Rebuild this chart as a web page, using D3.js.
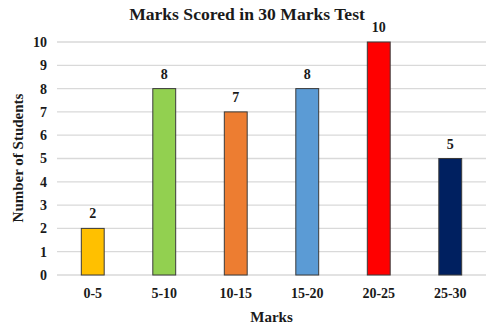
<!DOCTYPE html>
<html>
<head>
<meta charset="utf-8">
<script src="https://cdn.jsdelivr.net/npm/d3@7"></script>
<style>
  body { margin: 0; background: #fff; }
  svg text { font-family: "Liberation Serif", "Times New Roman", serif !important; font-weight: bold; fill: #1a1a1a; }
</style>
</head>
<body>
<div id="chart"></div>
<script>
// chart data
var categories = ["0-5", "5-10", "10-15", "15-20", "20-25", "25-30"];
var students = [2, 8, 7, 8, 10, 5];
var barColors = ["#FFC000", "#92D050", "#ED7D31", "#5B9BD5", "#FF0000", "#002060"];
var yTicks = [0, 1, 2, 3, 4, 5, 6, 7, 8, 9, 10];

var width = 495, height = 329;
var margin = {top: 42, right: 9, bottom: 54, left: 57};
var serif = '"Liberation Serif", "Times New Roman", serif';

var svg = d3.select("#chart")
    .append("svg")
    .attr("width", width)
    .attr("height", height);

var x = d3.scaleBand()
    .domain(categories)
    .range([margin.left, width - margin.right])
    .paddingInner(0.68)
    .paddingOuter(0.34);

var y = d3.scaleLinear()
    .domain([0, 10])
    .range([height - margin.bottom, margin.top]);

// gridlines
svg.append("g")
    .selectAll("line")
    .data(yTicks)
    .enter().append("line")
    .attr("x1", margin.left)
    .attr("x2", width - margin.right)
    .attr("y1", function (d) { return y(d); })
    .attr("y2", function (d) { return y(d); })
    .style("stroke", "#d9d9d9")
    .style("stroke-width", 1.3);

// y tick labels
var yAxis = svg.append("g")
    .attr("transform", "translate(" + margin.left + ",0)")
    .attr("font-family", serif)
    .call(d3.axisLeft(y).tickValues(yTicks).tickSize(0).tickPadding(10));
yAxis.select(".domain").remove();
yAxis.selectAll("text").style("font-size", "14px").style("font-family", serif);

// bars
svg.append("g")
    .selectAll("rect")
    .data(students)
    .enter().append("rect")
    .attr("x", function (d, i) { return x(categories[i]); })
    .attr("y", function (d) { return y(d); })
    .attr("width", x.bandwidth())
    .attr("height", function (d) { return y(0) - y(d); })
    .style("fill", function (d, i) { return barColors[i]; })
    .style("stroke", "#3a3a3a")
    .style("stroke-width", 1);

// value labels
svg.append("g")
    .selectAll("text")
    .data(students)
    .enter().append("text")
    .attr("x", function (d, i) { return x(categories[i]) + x.bandwidth() / 2; })
    .attr("y", function (d) { return y(d) - 10; })
    .attr("text-anchor", "middle")
    .style("font-size", "14px")
    .style("font-family", serif)
    .text(function (d) { return d; });

// x tick labels
var xAxis = svg.append("g")
    .attr("transform", "translate(0," + y(0) + ")")
    .attr("font-family", serif)
    .call(d3.axisBottom(x).tickSize(0).tickPadding(13));
xAxis.select(".domain").remove();
xAxis.selectAll("text").style("font-size", "14px").style("font-family", serif);

// titles
svg.append("text")
    .attr("x", 247)
    .attr("y", 20)
    .attr("text-anchor", "middle")
    .style("font-size", "17.6px")
    .style("font-family", serif)
    .text("Marks Scored in 30 Marks Test");

svg.append("text")
    .attr("x", (margin.left + width - margin.right) / 2)
    .attr("y", 322)
    .attr("text-anchor", "middle")
    .style("font-size", "15px")
    .style("font-family", serif)
    .text("Marks");

svg.append("text")
    .attr("transform", "translate(23,158) rotate(-90)")
    .attr("text-anchor", "middle")
    .style("font-size", "15px")
    .style("font-family", serif)
    .text("Number of Students");
</script>
</body>
</html>
